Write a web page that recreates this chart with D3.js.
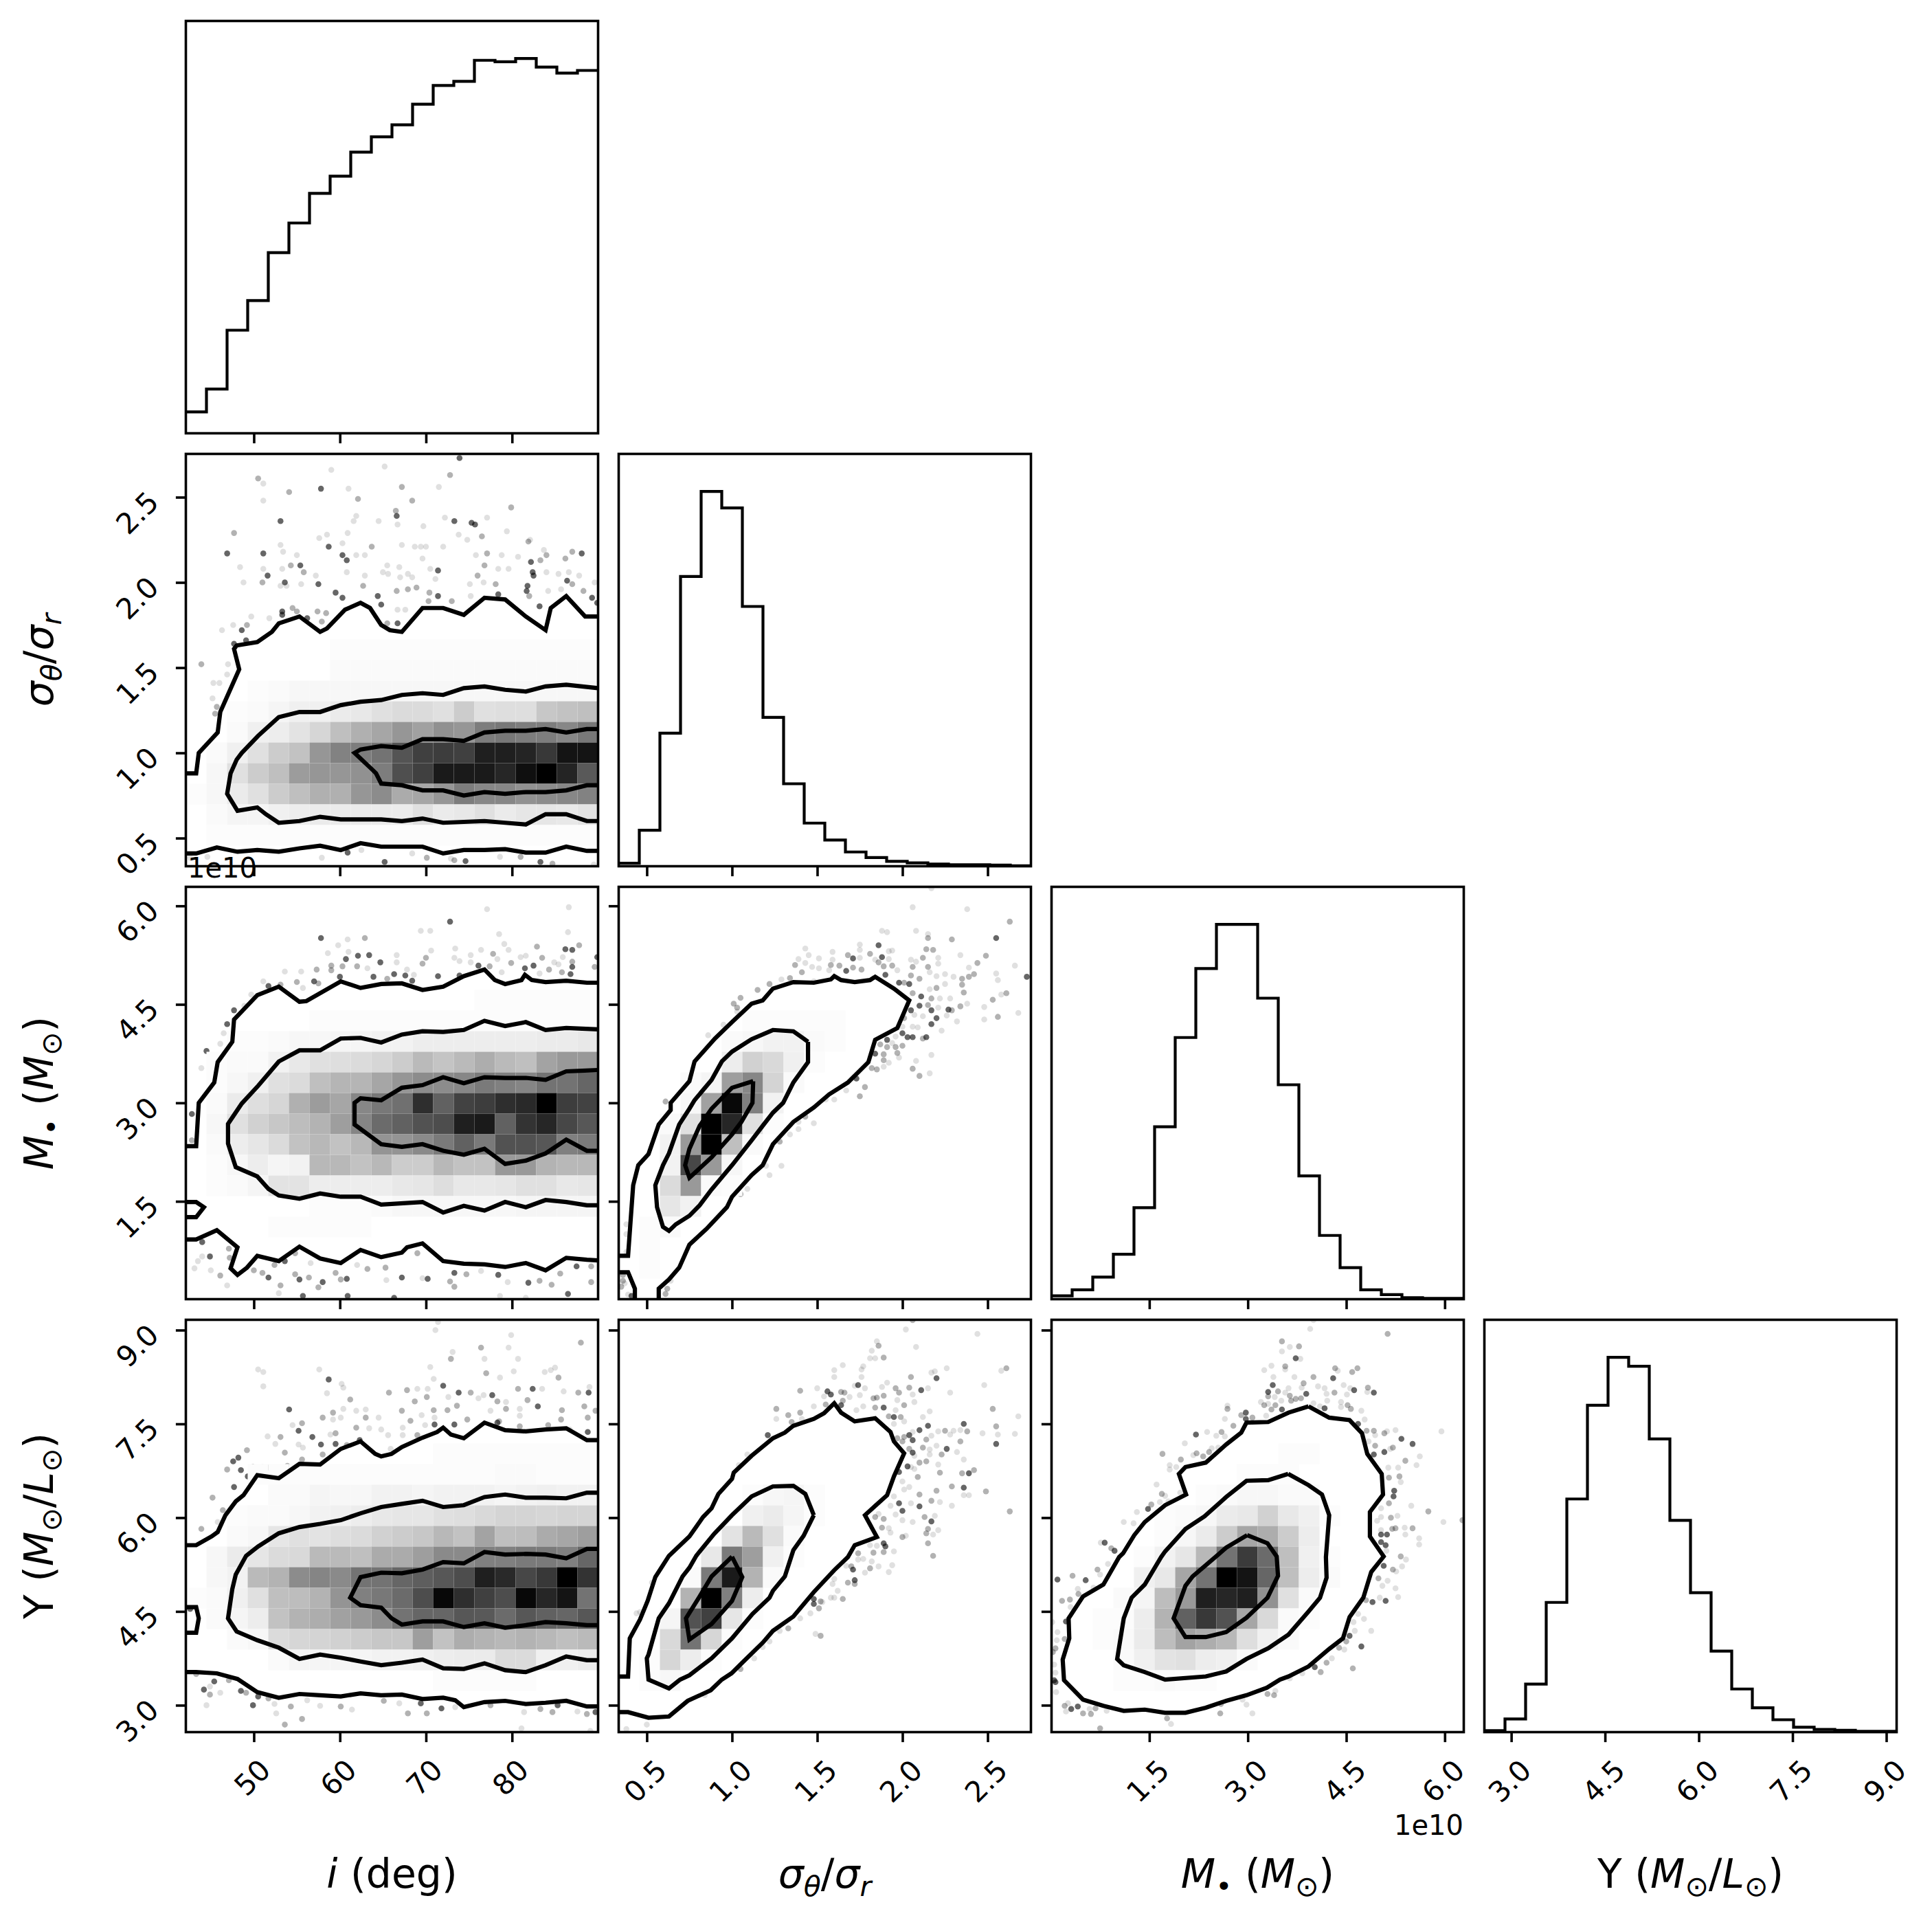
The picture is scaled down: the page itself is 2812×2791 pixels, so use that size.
<!DOCTYPE html>
<html>
<head>
<meta charset="utf-8">
<script src="https://cdn.jsdelivr.net/npm/d3@7"></script>
<style>
  html, body { margin: 0; padding: 0; background: #fff; }
  svg { display: block; }
  text { font-family: "DejaVu Sans", sans-serif; fill: #000; }
</style>
</head>
<body>
<svg id="chart" width="2812" height="2791"></svg>
<script>
// ---- axis ranges and ticks ----
const domI = [42.1, 90], domS = [0.335, 2.754], domM = [0.01, 6.29], domY = [2.57, 9.165];
const ticksI = [50, 60, 70, 80];
const ticksS = [0.5, 1.0, 1.5, 2.0, 2.5];
const ticksM = [1.5, 3.0, 4.5, 6.0];
const ticksY = [3.0, 4.5, 6.0, 7.5, 9.0];

// ---- 1d histograms, relative counts, 20 bins ----
const histI = [57, 118, 275, 354, 482, 561, 640, 686, 750, 791, 823, 878, 928, 939, 995, 991, 1000, 977, 961, 968];
const histS = [8, 96, 355, 773, 1000, 956, 693, 397, 220, 115, 70, 38, 23, 13, 9, 6, 4, 4, 3, 1];
const histM = [9, 25, 59, 120, 244, 460, 698, 882, 1000, 1000, 803, 572, 329, 170, 84, 25, 12, 4, 2, 2];
const histY = [4, 35, 128, 346, 622, 872, 1000, 976, 782, 565, 372, 216, 115, 65, 33, 13, 7, 5, 2, 2];

// ---- 2d histograms: [row from top, first column, densities 0-100] ----
const cellsIS = [
  [9, 7, [1,1,1,1,1,1,1,1,1,1,1,1,1]],
  [10, 7, [2,2,2,2,2,2,2,2,2,2,2,2,2]],
  [11, 3, [1,2,3,3,3,3,3,3,3,3,3,3,3,3,3,3,3]],
  [12, 2, [1,2,4,6,6,8,9,12,14,14,12,20,12,13,13,22,24,25]],
  [13, 2, [2,6,7,11,16,25,31,35,41,37,43,41,51,53,51,51,47,53]],
  [14, 1, [2,6,12,20,24,41,49,51,55,67,75,76,75,88,88,86,78,92,92]],
  [15, 1, [3,12,20,25,39,41,41,43,51,69,75,90,90,90,85,94,100,86,65]],
  [16, 0, [1,3,8,12,20,25,31,31,41,45,33,35,41,51,47,47,43,45,47,49]],
  [17, 1, [2,4,4,6,7,8,8,8,8,8,12,8,9,12,8,10,10,9,11]],
  [18, 1, [1,1,1,1,1,1,1,1,1,1,1,1,1,1,1,1,1,1,1]]
];
const cellsIM = [
  [5, 14, [1,1,1,1,1,1]],
  [6, 6, [1,1,1,1,1,1,1,1,1,1,1,1,1,1]],
  [7, 2, [1,1,2,3,3,4,4,5,5,7,7,7,7,7,7,8,8,9,9]],
  [8, 1, [1,2,2,5,9,12,13,14,16,20,27,23,27,32,27,25,36,40,40]],
  [9, 1, [1,3,6,12,14,25,29,29,35,41,45,45,47,52,50,48,55,55,60]],
  [10, 1, [2,8,13,16,31,39,35,47,53,56,82,62,74,76,82,84,100,76,74]],
  [11, 1, [3,12,18,22,26,30,38,48,58,62,68,70,88,90,62,80,85,72,66]],
  [12, 1, [2,7,10,14,24,28,24,28,42,42,46,52,62,52,68,68,66,50,52]],
  [13, 1, [1,3,7,4,5,28,28,24,28,20,20,28,24,24,40,40,30,28,28]],
  [14, 1, [1,2,4,11,11,7,7,7,7,9,10,13,9,9,10,12,12,9,10]],
  [15, 6, [1,1,1,2,3,3,3,3,3,3,4,4,4,4]],
  [16, 4, [1,1,1,1,1]]
];
const cellsIY = [
  [6, 12, [1,1,1,1,1,1,1,1]],
  [7, 3, [1,1,1,1,1,1,1,1,1,1,1,1,2,2,1,1,1]],
  [8, 4, [2,2,4,3,3,5,5,4,5,5,5,4,5,6,5,5]],
  [9, 2, [1,2,2,3,5,6,7,9,10,10,12,13,15,17,17,16,17,17]],
  [10, 2, [2,3,10,12,11,13,14,18,20,22,28,24,36,25,26,33,35,38]],
  [11, 1, [3,8,10,14,15,27,27,25,33,33,38,46,46,50,50,52,52,50,60]],
  [12, 1, [3,5,27,30,45,48,46,55,55,60,63,66,70,88,84,72,78,100,80]],
  [13, 0, [1,2,6,12,25,26,30,42,50,53,58,70,97,82,75,70,97,85,92,55]],
  [14, 1, [2,4,7,24,30,32,37,40,45,55,60,60,66,65,58,66,62,60,66]],
  [15, 2, [2,3,14,16,17,18,20,22,22,38,24,32,30,28,30,28,25,27]],
  [16, 4, [2,4,4,4,4,5,5,6,7,8,8,14,14,6,6,7]],
  [17, 12, [1,1,1,1,1]]
];
const cellsSM = [
  [6, 6, [1,1,1,1,1]],
  [7, 5, [2,3,5,5,2,1]],
  [8, 5, [7,18,15,6,1]],
  [9, 3, [2,4,38,47,17,2]],
  [10, 3, [3,37,97,50,5]],
  [11, 2, [2,12,100,85,12,1]],
  [12, 2, [5,40,100,25,2]],
  [13, 2, [5,72,40,3]],
  [14, 2, [14,40,2,1]],
  [15, 2, [10,5]],
  [16, 1, [1,2]],
  [17, 1, [1]],
  [18, 1, [1]]
];
const cellsSY = [
  [8, 6, [1,3,4,1]],
  [9, 6, [6,8,4,1]],
  [10, 5, [11,27,12,2]],
  [11, 4, [9,52,38,6,1]],
  [12, 3, [2,52,90,30,2]],
  [13, 3, [30,100,50,7]],
  [14, 2, [4,68,75,10,1]],
  [15, 2, [15,55,16,1]],
  [16, 1, [1,16,7,1]],
  [17, 1, [1,3]]
];
const cellsMY = [
  [6, 11, [1,1]],
  [7, 9, [1,1,1]],
  [8, 7, [1,2,3,3,2,2]],
  [9, 5, [1,2,3,8,9,18,9,6,1]],
  [10, 5, [1,3,8,20,35,32,20,7]],
  [11, 4, [1,5,10,28,55,77,58,25,6,1]],
  [12, 4, [6,9,35,55,100,92,60,25,7,2]],
  [13, 3, [2,4,26,40,88,85,88,43,12,2]],
  [14, 2, [1,1,7,30,62,78,68,35,15,2,1]],
  [15, 2, [1,2,8,26,36,32,28,13,6,2]],
  [16, 3, [2,6,11,12,7,6,2]],
  [17, 3, [1,1,2,1,1]]
];

// ---- contour lines ----
const contoursIS = [
  [[42.1,.88],[43.3,.88],[43.6,1],[45.8,1.12],[46.1,1.24],[48.3,1.49],[47.7,1.61],[48,1.63],[50.4,1.65],[52.1,1.71],[52.9,1.76],[55.3,1.8],[57.7,1.71],[58.5,1.73],[60.6,1.84],[62.4,1.88],[63.5,1.85],[64.8,1.75],[65.8,1.72],[67.2,1.71],[69.6,1.85],[72,1.85],[74.4,1.81],[76.8,1.91],[79.2,1.9],[81.6,1.8],[83.9,1.72],[84.5,1.85],[86.3,1.92],[88.5,1.8],[90,1.8]],
  [[42.1,.41],[43.3,.41],[45.7,.445],[48.1,.42],[50.4,.43],[52.9,.42],[55.3,.44],[57.7,.455],[60.1,.43],[62.4,.47],[64.8,.45],[69.6,.45],[72,.41],[74.4,.43],[76.8,.43],[79.2,.435],[81.6,.415],[83.9,.415],[86.3,.45],[88.7,.425],[90,.425]],
  [[90,1.38],[86.3,1.4],[83.9,1.39],[81.6,1.36],[79.2,1.37],[76.8,1.39],[74.4,1.38],[72,1.34],[69.6,1.35],[67.2,1.34],[64.8,1.31],[62.4,1.3],[60.1,1.28],[57.7,1.24],[55.3,1.24],[52.9,1.21],[50.5,1.1],[48.6,1],[48,.96],[47.3,.88],[46.9,.76],[48.1,.66],[50.4,.68],[51.4,.64],[52.9,.59],[55.3,.6],[57.7,.625],[60.1,.61],[64.8,.61],[67.2,.6],[69.6,.615],[72,.59],[74.4,.595],[76.8,.6],[79.2,.59],[81.6,.58],[83.9,.64],[86.3,.64],[88.7,.6],[90,.6]],
  [[90,1.14],[88.7,1.14],[86.3,1.12],[83.9,1.14],[81.6,1.13],[79.2,1.13],[76.8,1.12],[74.4,1.07],[72,1.08],[69.6,1.08],[67.2,1.03],[64.8,1.04],[62.4,1.02],[61.7,1],[63.8,.9],[64.2,.88],[64.8,.82],[67.2,.81],[69.6,.78],[72,.78],[74.4,.75],[76.8,.77],[79.2,.76],[81.6,.77],[83.9,.77],[86.3,.78],[88.7,.81],[90,.81]]
];
const contoursIM = [
  [[42.2,2.34],[43.3,2.34],[43.6,3],[45.4,3.31],[45.8,3.62],[47.5,3.93],[47.7,4.27],[50.4,4.64],[52.9,4.77],[55.3,4.54],[56.1,4.55],[60.1,4.85],[62.4,4.75],[64.8,4.81],[67.2,4.82],[69.6,4.72],[72,4.77],[74.4,4.93],[76.8,5.03],[78,4.87],[79.2,4.81],[81.1,4.87],[81.5,4.95],[82.3,4.87],[83.9,4.84],[86.3,4.86],[88.7,4.83],[90,4.83]],
  [[42.2,1.49],[43.3,1.49],[44.2,1.41],[43.3,1.26],[42.2,1.26]],
  [[42.2,.92],[43.3,.92],[45.7,1.06],[48.1,.8],[47.3,.48],[48.1,.38],[49.2,.49],[50.4,.67],[52.9,.59],[55.3,.81],[57.7,.63],[60.1,.56],[62.4,.76],[64.8,.65],[67.2,.72],[67.8,.8],[69.6,.86],[72,.59],[74.4,.55],[76.8,.54],[79.2,.5],[81.6,.56],[83.9,.45],[86.3,.64],[88.7,.61],[90,.6]],
  [[90,4.12],[86.3,4.14],[83.9,4.11],[81.6,4.23],[79.2,4.17],[76.8,4.25],[74.4,4.11],[72,4.08],[69.6,4.09],[67.2,4.04],[64.8,3.92],[62.4,3.99],[60.1,3.98],[57.7,3.8],[55.3,3.8],[52.9,3.63],[50.5,3.26],[48.6,2.99],[47,2.68],[47,2.38],[47.9,2.02],[50.4,1.88],[51.7,1.69],[52.9,1.59],[55.3,1.54],[57.7,1.62],[60.1,1.57],[62.4,1.57],[64.8,1.45],[69.6,1.49],[72,1.33],[74.4,1.43],[76.8,1.36],[79.2,1.49],[81.6,1.41],[83.9,1.52],[86.3,1.49],[88.7,1.44],[90,1.44]],
  [[90,3.5],[86.3,3.48],[83.9,3.35],[81.6,3.38],[79.2,3.38],[76.8,3.39],[74.4,3.3],[72,3.39],[69.6,3.27],[67.2,3.23],[64.8,3.04],[62.4,3.07],[61.7,3],[61.7,2.67],[64.8,2.37],[67.2,2.33],[69.6,2.37],[72,2.27],[74.4,2.21],[76.8,2.3],[79.2,2.07],[81.6,2.12],[83.9,2.23],[86.3,2.44],[88.7,2.27],[90,2.27]]
];
const contoursIY = [
  [[42.2,5.56],[43.3,5.56],[45.1,5.7],[45.8,5.77],[46.7,6.04],[47.9,6.26],[48.8,6.36],[50.4,6.68],[52.9,6.63],[55.3,6.86],[57.7,6.85],[60.1,7.1],[62.4,7.22],[64.1,7.02],[64.8,6.98],[66,7.02],[67.2,7.13],[69.6,7.28],[71.3,7.37],[72,7.44],[72.9,7.33],[74.4,7.27],[76.8,7.52],[79.2,7.4],[81.6,7.38],[83.9,7.41],[86.3,7.43],[88.7,7.24],[90,7.24]],
  [[42.2,3.53],[43.3,3.53],[45.7,3.51],[48.1,3.42],[50.4,3.21],[52.9,3.12],[55.3,3.18],[57.7,3.16],[60.1,3.14],[62.4,3.19],[64.8,3.16],[67.2,3.17],[69.6,3.1],[72,3.12],[73.4,3.08],[74.4,2.97],[76.8,3.05],[79.2,3.07],[81.6,3.02],[83.9,3.04],[86.3,3.07],[88.7,2.98],[90,2.98]],
  [[42.2,4.57],[43.3,4.57],[43.6,4.39],[43.3,4.16],[42.2,4.16]],
  [[90,6.4],[88.7,6.4],[86.3,6.31],[83.9,6.32],[81.6,6.32],[79.2,6.37],[76.8,6.33],[74.4,6.2],[72,6.17],[69.6,6.27],[67.2,6.22],[64.8,6.17],[62.4,6.07],[60.1,5.96],[57.7,5.9],[55.3,5.85],[52.9,5.75],[51.4,5.62],[50.5,5.54],[49.1,5.39],[47.9,5.09],[47.5,4.86],[47,4.39],[48,4.18],[50.4,4.04],[52.9,3.92],[55.3,3.74],[57.7,3.81],[60.1,3.76],[62.4,3.7],[64.8,3.64],[67.2,3.68],[69.6,3.73],[72,3.59],[74.4,3.58],[76.8,3.67],[79.2,3.56],[81.6,3.53],[83.9,3.64],[86.3,3.78],[88.7,3.72],[90,3.72]],
  [[90,5.5],[88.7,5.5],[86.3,5.35],[83.9,5.41],[81.6,5.42],[79.2,5.41],[76.8,5.45],[74.4,5.27],[72,5.29],[69.6,5.17],[67.2,5.11],[64.8,5.12],[62.4,5.05],[61.2,4.72],[62.4,4.6],[64.8,4.56],[66,4.39],[67.2,4.29],[69.6,4.34],[72,4.34],[74.4,4.25],[76.8,4.31],[79.2,4.24],[81.6,4.28],[83.9,4.33],[86.3,4.31],[88.7,4.28],[90,4.28]]
];
const contoursSM = [
  [[.33,.67],[.39,.67],[.42,1.745],[.45,2.05],[.51,2.22],[.57,2.67],[.64,2.89],[.64,3],[.75,3.33],[.78,3.63],[.9,3.98],[1,4.23],[1.115,4.51],[1.18,4.56],[1.24,4.74],[1.36,4.84],[1.48,4.83],[1.58,4.88],[1.6,4.93],[1.64,4.87],[1.72,4.84],[1.81,4.87],[1.84,4.92],[1.95,4.74],[2.04,4.56],[1.97,4.14],[1.84,3.96],[1.8,3.62],[1.68,3.31],[1.57,3.13],[1.48,2.93],[1.36,2.71],[1.24,2.37],[1.18,2.05],[1.115,1.9],[1,1.57],[.97,1.41],[.85,1.08],[.75,.84],[.69,.49],[.63,.31],[.57,.17],[.57,.01]],
  [[.33,.42],[.39,.42],[.43,.17],[.43,.01]],
  [[1.446,3.93],[1.446,3.62],[1.36,3.31],[1.3,3],[1.24,2.85],[1.18,2.65],[1.115,2.43],[1,2.05],[.88,1.68],[.81,1.44],[.75,1.28],[.67,1.15],[.63,1.05],[.595,1.11],[.56,1.41],[.55,1.745],[.595,2.05],[.63,2.23],[.69,2.67],[.75,2.91],[.78,3.04],[.88,3.35],[.94,3.63],[1,3.78],[1.115,3.97],[1.24,4.11],[1.36,4.09],[1.42,3.98],[1.446,3.93]],
  [[1.124,3.33],[1.12,3],[1.055,2.71],[1,2.52],[.88,2.17],[.83,2.05],[.75,1.86],[.725,2.05],[.75,2.3],[.81,2.65],[.88,2.91],[1,3.23],[1.124,3.33]]
];
const contoursSY = [
  [[.33,3.46],[.39,3.46],[.4,4.07],[.46,4.37],[.505,4.67],[.55,5.05],[.63,5.39],[.75,5.7],[.83,6.01],[.88,6.15],[.92,6.38],[1,6.62],[1.01,6.72],[1.115,6.99],[1.24,7.27],[1.31,7.36],[1.36,7.47],[1.48,7.58],[1.54,7.67],[1.6,7.83],[1.64,7.68],[1.72,7.54],[1.84,7.59],[1.93,7.37],[1.95,7.22],[2.01,7.03],[1.95,6.66],[1.91,6.36],[1.78,6.04],[1.85,5.69],[1.72,5.56],[1.68,5.37],[1.6,5.16],[1.48,4.81],[1.36,4.42],[1.24,4.19],[1.18,4],[1.06,3.68],[.997,3.51],[.94,3.41],[.875,3.24],[.74,3.07],[.63,2.82],[.51,2.8],[.39,2.89],[.33,2.89]],
  [[1.48,6.04],[1.42,5.71],[1.36,5.48],[1.31,5.06],[1.24,4.83],[1.22,4.72],[1.12,4.46],[1,4.07],[.88,3.75],[.75,3.48],[.695,3.41],[.63,3.27],[.51,3.41],[.5,3.75],[.51,3.81],[.57,4.39],[.63,4.63],[.71,5.06],[.75,5.2],[.79,5.39],[.895,5.74],[1,6.04],[1.115,6.34],[1.24,6.5],[1.36,6.51],[1.43,6.38],[1.48,6.04]],
  [[1,5.375],[1.06,5.05],[1,4.67],[.88,4.3],[.75,4.05],[.73,4.39],[.81,4.74],[.88,5.06],[1,5.375]]
];
const contoursMY = [
  [[3.925,7.78],[4.24,7.6],[4.55,7.56],[4.74,7.35],[4.82,7.02],[5.04,6.7],[5.06,6.37],[4.86,6.09],[4.86,5.7],[5.07,5.38],[4.88,5.13],[4.76,4.72],[4.55,4.41],[4.45,4.07],[4.24,3.9],[3.925,3.62],[3.62,3.46],[3.49,3.41],[3.29,3.28],[2.98,3.16],[2.67,3.07],[2.36,2.96],[2.05,2.88],[1.74,2.88],[1.43,2.93],[1.11,2.91],[.8,2.99],[.49,3.09],[.2,3.4],[.18,3.73],[.28,4.07],[.27,4.39],[.49,4.74],[.8,4.93],[1.04,5.37],[1.1,5.43],[1.27,5.72],[1.43,5.93],[1.74,6.2],[2.06,6.37],[1.95,6.7],[2.05,6.81],[2.36,6.88],[2.67,7.17],[2.9,7.36],[2.98,7.52],[3.31,7.53],[3.62,7.68],[3.925,7.78]],
  [[3.615,6.7],[3.925,6.52],[4.13,6.37],[4.24,6.04],[4.19,5.37],[4.2,5.04],[4.1,4.72],[3.925,4.5],[3.62,4.13],[3.31,3.91],[2.98,3.74],[2.67,3.54],[2.36,3.46],[1.74,3.41],[1.43,3.53],[1.11,3.64],[1.01,3.74],[1.11,4.39],[1.23,4.72],[1.43,4.93],[1.68,5.37],[1.74,5.46],[2.05,5.82],[2.34,6.02],[2.67,6.33],[2.98,6.59],[3.31,6.6],[3.615,6.7]],
  [[2.99,5.72],[3.3,5.59],[3.44,5.38],[3.46,5.07],[3.3,4.72],[2.98,4.4],[2.67,4.17],[2.36,4.09],[2.05,4.09],[1.87,4.39],[2.05,4.91],[2.16,5.06],[2.55,5.41],[2.67,5.52],[2.99,5.72]]
];

// ---- scatter points outside the contours: [x, y, weight 1-3] ----
const pointsIS = [[73.9,2.73,3],[72.8,2.63,2],[59,2.66,1],[65.2,2.68,1],[50.5,2.61,2],[51.1,2.58,1],[51.1,2.48,1],[54.1,2.53,2],[57.8,2.55,3],[61,2.55,1],[62.1,2.49,2],[67.2,2.56,2],[71.5,2.56,1],[68.4,2.48,2],[79.9,2.44,2],[66.5,2.42,2],[66.6,2.39,3],[61.9,2.39,1],[61.6,2.36,1],[64.5,2.36,1],[66.7,2.34,1],[72.2,2.38,1],[53.1,2.36,3],[73.3,2.36,3],[75.3,2.35,3],[75.7,2.34,3],[77.1,2.38,1],[69.7,2.33,1],[79.4,2.3,1],[47.7,2.29,2],[58.5,2.28,1],[57.6,2.26,1],[60.9,2.29,1],[73.8,2.28,1],[76.5,2.27,2],[74.8,2.25,1],[82.1,2.25,1],[81.9,2.24,2],[67.2,2.22,1],[60.3,2.23,1],[53.1,2.22,1],[58.7,2.21,3],[63.7,2.21,2],[68.7,2.21,1],[69.4,2.21,1],[70,2.21,1],[72,2.21,1],[46.9,2.17,3],[51.1,2.17,3],[53.4,2.18,1],[55,2.16,1],[60.3,2.16,3],[61.9,2.16,1],[62.9,2.16,1],[69.6,2.14,1],[75.8,2.16,1],[77.1,2.17,2],[78.8,2.16,1],[80.7,2.15,1],[83.7,2.19,1],[84,2.16,2],[87,2.18,2],[88.1,2.17,3],[86.2,2.14,2],[82.2,2.12,3],[83.3,2.13,2],[60.8,2.13,3],[54.3,2.1,2],[55.4,2.1,3],[65.5,2.1,1],[76.8,2.1,2],[70.5,2.08,1],[71.4,2.07,3],[78.4,2.08,1],[79.6,2.08,1],[48.4,2.09,1],[51.1,2.08,1],[53.3,2.08,1],[51.6,2.04,3],[55.8,2.06,2],[60.8,2.06,1],[65,2.06,1],[65.6,2.05,1],[66.9,2.09,1],[67.9,2.05,1],[82.4,2.06,3],[84,2.06,1],[85.4,2.05,1],[86.6,2.06,1],[57.2,2.04,1],[62.9,2.04,1],[67,2.03,1],[76,2.04,2],[82.5,2.04,3],[87.8,2.04,1],[51,2,2],[48.8,2,1],[53.6,2,3],[55.5,1.99,1],[57.5,1.99,3],[68.4,2.03,1],[71.1,2.02,1],[76.7,2,1],[78.1,1.99,2],[75.1,1.99,1],[86.4,2.01,3],[87,1.99,2],[89.6,2,1],[81.8,1.98,3],[53.1,1.98,1],[53.8,1.98,1],[62.7,1.98,2],[68.9,1.97,2],[67.9,1.96,2],[66.6,1.95,2],[88.3,1.95,2],[81.7,1.95,3],[84.2,1.95,1],[85.7,1.96,1],[70.4,1.94,2],[59.5,1.94,3],[64.4,1.92,3],[60.3,1.91,3],[71.4,1.92,3],[78.4,1.93,3],[89.3,1.91,3],[82,1.92,2],[89.9,1.88,3],[70.3,1.89,2],[73,1.89,2],[75.2,1.92,1],[64.8,1.87,3],[83.2,1.86,3],[53.3,1.83,3],[53.3,1.81,3],[54.5,1.85,2],[55,1.83,2],[57.4,1.83,2],[58.4,1.82,2],[49.7,1.8,1],[56.2,1.79,3],[57.9,1.77,2],[51.8,1.79,1],[66.7,1.84,1],[67.6,1.84,1],[65.5,1.76,2],[66.7,1.76,3],[47.6,1.75,1],[49.2,1.75,2],[48.6,1.72,3],[46.3,1.72,1],[49.1,1.66,3],[47.7,1.64,3],[43.9,1.52,2],[47,1.52,1],[46.9,1.46,1],[45.3,1.41,1],[46,1.41,1],[45.2,1.32,1],[45.7,1.27,2],[45.5,1.23,2],[60.9,.415,3],[62.5,.43,1],[68.4,.41,1],[70.1,.385,2],[57.9,.385,1],[65.2,.36,3],[73.3,.37,2],[74.6,.365,3],[78.6,.39,1],[81,.39,2],[83.3,.36,3],[84.7,.35,2],[72.9,.38,1],[44.6,.39,1],[42.6,.385,1],[89.5,.345,1]];
const pointsIM = [[77.1,5.95,1],[86.6,5.98,1],[72.8,5.76,3],[86.5,5.6,1],[57.8,5.51,3],[60.9,5.49,1],[62.9,5.51,2],[69.4,5.62,1],[70.5,5.62,1],[78.5,5.57,1],[59.8,5.4,1],[70.6,5.32,1],[79.1,5.42,1],[82.9,5.38,2],[73.4,5.35,1],[79.6,5.33,1],[87.8,5.4,2],[87,5.33,3],[86.2,5.34,3],[58.6,5.28,1],[61,5.3,1],[62.1,5.24,3],[63.4,5.25,3],[66.6,5.25,1],[70,5.21,2],[73.3,5.21,1],[75.2,5.25,1],[76.4,5.33,1],[77.8,5.27,2],[78.3,5.19,1],[81,5.22,1],[81.6,5.24,1],[83.5,5.21,2],[85.9,5.22,1],[89.9,5.22,3],[60.7,5.19,3],[60.3,5.08,2],[64.7,5.14,3],[66.6,5.14,1],[69.6,5.12,2],[73.9,5.16,1],[75.2,5.14,1],[79.9,5.13,2],[82.5,5.09,3],[84.9,5.14,1],[87,5.15,2],[85.4,5.11,1],[59,5.09,2],[62,5.08,2],[57.3,5.03,2],[63.2,5.05,1],[67.8,5.03,1],[76.1,5.09,3],[77.4,5.08,2],[81.5,5.05,3],[84.3,5.03,2],[87,5.07,3],[89.6,5.07,2],[53.6,5,1],[55.5,5,1],[59,5.02,2],[66.3,4.96,3],[67.6,4.94,3],[71.4,4.93,3],[78.8,4.99,1],[83.2,4.97,1],[85.8,4.99,2],[86.8,4.96,3],[60,4.92,3],[63.9,4.92,3],[65.5,4.89,2],[68.6,4.95,1],[73.9,4.94,3],[51.1,4.85,1],[55,4.84,2],[57,4.85,3],[68.4,4.86,3],[53.1,4.8,2],[51.7,4.78,3],[57.5,4.82,2],[55.7,4.75,1],[49.7,4.65,1],[47.7,4.41,3],[48.9,4.48,1],[46.9,4.2,3],[46.5,4.06,1],[46.1,3.9,1],[44.5,3.79,3],[45.4,3.64,1],[45.2,3.55,2],[43.9,3.53,1],[44.9,3.35,1],[42.8,2.83,3],[42.8,2.43,2],[44,.88,3],[44.9,.66,3],[44,.66,1],[43.5,.59,1],[47.1,.78,2],[47.2,.64,2],[43.1,.48,1],[45,.45,1],[46.1,.37,2],[50,.45,2],[51,.41,2],[51.7,.34,3],[52.4,.53,2],[53.6,.59,3],[54.8,.71,2],[54.8,.39,2],[55.3,.31,3],[56.4,.34,2],[56.6,.56,1],[58,.27,3],[57.5,.19,2],[60.8,.32,3],[60.1,.31,2],[59.5,.41,2],[62,.53,1],[65.3,.49,2],[63.2,.47,2],[67.2,.34,3],[69.6,.33,1],[70.2,.32,3],[69,.71,2],[73.3,.41,3],[74.7,.39,2],[72.8,.28,2],[76.4,.44,1],[78.4,.38,3],[79.5,.27,1],[81.9,.26,3],[83.2,.29,2],[85.6,.4,2],[87.5,.51,3],[89.2,.51,2],[86.5,.09,3],[89.2,.27,2],[73.3,.2,2],[46.9,.22,1],[53.1,.22,2],[52.9,.1,1],[55.7,.06,3],[60.9,.06,3],[66.3,.03,3],[78.6,.06,1],[81.6,.03,1],[84.6,.23,2],[65.4,.3,1]];
const pointsIY = [[71.4,9.13,1],[71.1,9,1],[79.9,8.92,1],[88,8.8,2],[76.4,8.72,2],[79.6,8.72,1],[73.1,8.65,1],[72.9,8.54,2],[76.8,8.54,1],[80.7,8.54,1],[50.5,8.37,1],[51.1,8.33,1],[57.6,8.37,1],[70.5,8.41,1],[80.2,8.34,1],[83.8,8.33,1],[85,8.4,1],[84.5,8.36,1],[77,8.31,2],[85.4,8.24,2],[58.7,8.21,3],[78.6,8.24,1],[70.9,8.22,1],[51.1,8.1,1],[60.2,8.14,1],[60.4,8.08,1],[72,8.11,3],[58.5,7.99,1],[65.7,8,2],[67.8,8.04,2],[69,8.06,1],[70.2,8.06,1],[73.8,8,3],[75.2,8,2],[76.7,7.96,1],[77.7,7.96,3],[80.7,8.06,2],[82.4,8.06,3],[83.5,8.06,1],[86,8.02,1],[87.7,8,2],[89,8.09,1],[61.2,7.89,2],[68.7,7.86,2],[70.1,7.93,2],[72.6,7.93,1],[76.1,7.91,1],[78.3,7.86,2],[79.3,7.85,1],[81.8,7.88,2],[88.9,8,3],[54.1,7.73,3],[60.4,7.74,1],[59.2,7.68,2],[61.9,7.71,1],[63,7.73,1],[67.2,7.71,2],[70.9,7.72,2],[72.5,7.72,2],[73.6,7.79,2],[77.5,7.71,1],[79.3,7.74,2],[80.9,7.74,1],[83,7.78,3],[85.8,7.72,2],[88.4,7.78,2],[89.7,7.71,2],[58,7.6,2],[59.2,7.57,1],[60.1,7.6,1],[63,7.6,2],[64.5,7.6,1],[68.2,7.55,2],[69.5,7.64,1],[71,7.6,1],[74.8,7.57,2],[78.5,7.54,2],[80.9,7.63,1],[85.7,7.57,2],[88.8,7.6,2],[54.5,7.48,1],[55.6,7.51,2],[55.2,7.39,3],[61.9,7.44,2],[63.4,7.43,1],[64.8,7.41,1],[67.3,7.44,1],[69.9,7.48,1],[71,7.49,3],[73.3,7.49,3],[78.3,7.52,3],[84.2,7.48,2],[80.9,7.46,2],[86.7,7.41,1],[88.8,7.37,3],[51.6,7.3,1],[53.1,7.29,2],[56.8,7.29,3],[59.5,7.35,2],[58.9,7.33,1],[62.3,7.24,3],[65.6,7.32,1],[67.3,7.32,1],[69,7.32,2],[52.5,7.18,1],[55.2,7.17,1],[57.8,7.17,3],[55.7,7.12,1],[59.5,7.18,3],[60.8,7.16,2],[65.9,7.1,1],[49.2,7.08,2],[53.6,7.04,2],[58,7.01,2],[48.2,6.96,3],[47.6,6.9,3],[55.6,6.93,2],[53.9,6.83,2],[49.9,6.81,3],[51,6.81,1],[51.6,6.8,2],[46.9,6.77,2],[48.5,6.76,3],[49.3,6.66,3],[47.7,6.49,3],[45.2,6.32,2],[46.4,6.12,2],[45.8,5.93,1],[43.9,5.82,2],[42.6,4.54,3],[43.3,3.5,2],[44.2,3.25,3],[45.4,3.38,3],[46.1,3.2,1],[44.9,3.3,1],[44.9,3.17,2],[44.5,3,1],[47.1,3.4,2],[48.5,3.23,3],[49.1,3.2,2],[50.5,3.14,3],[49.9,3,3],[51.7,3.11,2],[52.4,3.02,1],[52.6,2.87,1],[53.6,2.69,2],[54.3,2.98,2],[55.6,2.78,2],[56.2,3.08,1],[57.7,2.99,1],[60.1,2.98,2],[61.4,2.93,1],[65.1,3.07,2],[66.9,3.03,1],[67.9,2.87,2],[69.4,3.03,3],[70.1,2.87,2],[71.8,2.95,3],[73.4,2.97,1],[77.5,3,2],[81.1,2.63,1],[81.4,2.89,1],[83.3,2.94,2],[85.3,3,3],[84.7,2.89,2],[87.6,2.9,1],[88.7,2.86,2],[89.7,2.89,3],[89.1,2.59,1]];
const pointsSM = [[2.17,6.27,1],[2.06,5.98,1],[2.38,5.95,1],[2.63,5.76,2],[2.55,5.51,3],[2.08,5.62,1],[1.88,5.62,1],[1.91,5.6,1],[2.15,5.57,1],[2.15,5.51,2],[2.29,5.49,2],[1.75,5.41,1],[1.86,5.4,3],[2.14,5.34,2],[2.18,5.33,2],[1.75,5.33,1],[1.43,5.35,1],[1.59,5.3,1],[1.92,5.31,1],[1.94,5.32,1],[1.81,5.27,2],[1.88,5.22,3],[1.45,5.25,1],[2.34,5.25,1],[2.49,5.24,2],[1.68,5.25,2],[1.71,5.2,3],[1.75,5.21,1],[1.39,5.19,1],[1.51,5.2,1],[2.05,5.18,1],[2.12,5.21,2],[2.21,5.21,1],[1.59,5.18,1],[1.84,5.18,1],[1.86,5.14,2],[1.92,5.19,1],[2.44,5.13,2],[2.21,5.12,1],[2.08,5.15,1],[1.43,5.13,1],[1.37,5.1,2],[1.58,5.1,2],[1.63,5.09,2],[1.71,5.06,2],[1.89,5.08,2],[1.94,5.09,2],[2.06,5.07,2],[2.15,5.07,2],[2.39,5.06,1],[2.66,5.09,1],[1.47,5.07,1],[1.51,5.05,1],[1.41,4.99,2],[1.76,5.03,2],[1.67,5.01,3],[1.57,5.02,1],[1.97,5.02,1],[2.16,4.99,1],[2.55,4.97,1],[2.42,4.96,2],[2.39,4.92,2],[2.73,4.92,3],[1.9,4.95,3],[2.05,4.94,2],[2.25,4.96,1],[2.2,4.93,1],[2.3,4.92,1],[2.35,4.89,2],[2.56,4.87,1],[1.98,4.83,3],[2.04,4.81,3],[2.01,4.83,2],[2.1,4.89,2],[1.34,4.9,2],[1.48,4.85,1],[1.29,4.88,1],[2.25,4.81,1],[1.22,4.81,2],[2.35,4.8,2],[2.16,4.73,1],[2.2,4.75,2],[2.36,4.68,2],[2.61,4.67,2],[2.58,4.65,1],[1.15,4.72,2],[2.11,4.62,3],[2.22,4.59,1],[2.28,4.59,1],[2.17,4.59,2],[2.53,4.57,2],[2.06,4.67,2],[1.05,4.6,2],[1.01,4.51,2],[1.03,4.45,2],[2.1,4.48,3],[2.15,4.49,2],[2.21,4.45,1],[2.34,4.47,2],[2.38,4.51,1],[2.48,4.46,1],[2.05,4.41,3],[2.17,4.41,3],[2.27,4.42,3],[2.29,4.41,2],[2.68,4.37,1],[1.03,4.39,1],[2.07,4.34,1],[2.12,4.32,1],[2.2,4.29,3],[2.26,4.33,1],[2.56,4.31,2],[2.48,4.27,1],[2.32,4.24,1],[2.01,4.29,2],[2.17,4.2,3],[.95,4.19,1],[2.06,4.16,1],[2.09,4.15,1],[2,4.16,1],[2.23,4.1,1],[.86,4.03,1],[2,4.06,3],[2.03,4,3],[2.06,4,3],[2.14,4,3],[2.12,3.98,2],[1.91,3.96,3],[1.96,4.01,1],[1.94,3.91,1],[1.87,3.89,2],[1.91,3.85,2],[2,3.87,2],[1.96,3.85,2],[1.84,3.75,3],[1.89,3.74,2],[1.97,3.76,2],[2.17,3.73,1],[1.98,3.69,1],[2.08,3.64,1],[1.89,3.65,2],[1.92,3.61,1],[1.82,3.53,2],[1.85,3.51,2],[1.89,3.55,1],[2.06,3.52,2],[2.16,3.45,1],[2.1,3.41,2],[1.73,3.37,3],[1.78,3.24,2],[1.75,3.1,2],[1.67,3.19,1],[1.6,3.05,1],[1.55,3.05,1],[.73,3.41,2],[.61,3.02,2],[1.43,2.79,2],[1.48,2.69,1],[1.39,2.71,1],[1.39,2.6,1],[1.34,2.52,1],[1.28,2.41,2],[1.29,2.04,1],[1.2,2.04,1],[1.22,1.9,1],[1.05,1.61,2],[1.09,1.69,1],[.38,1.15,1],[.38,1,1],[.38,.73,1],[.36,.38,2],[.36,.29,2],[.37,.25,1],[.35,.2,2],[.41,.06,3],[.39,.08,1],[.64,.29,1],[.62,.17,2],[.61,.09,2]];
const pointsSY = [[2.06,9.16,2],[2.02,9.01,1],[2.44,8.94,1],[1.85,8.82,1],[1.86,8.75,2],[1.82,8.67,1],[2.08,8.73,1],[1.81,8.55,1],[1.84,8.55,1],[1.89,8.56,2],[1.65,8.44,1],[1.6,8.36,1],[1.77,8.42,1],[1.6,8.25,1],[2.17,8.32,1],[2.19,8.34,1],[2.2,8.23,3],[2.26,8.39,1],[2.61,8.39,2],[2.58,8.35,1],[1.76,8.37,1],[1.76,8.25,1],[2.05,8.25,2],[1.91,8.16,1],[1.74,8.12,3],[1.72,8.11,1],[2.48,8.12,1],[1.96,8.07,2],[2.04,8.08,2],[2.11,8.04,3],[2.15,8.07,1],[1.5,8.07,1],[1.4,8.03,2],[1.56,8.02,3],[1.58,7.97,3],[1.64,8.01,2],[1.66,8,2],[1.78,8.07,1],[1.88,8.09,1],[1.98,8,2],[2.28,8,1],[1.54,7.94,1],[1.69,7.93,1],[1.75,7.96,1],[1.83,7.91,2],[1.85,7.92,2],[1.89,7.95,2],[2.06,7.97,1],[2.07,7.85,1],[1.65,7.87,2],[1.97,7.88,1],[2.01,7.8,2],[1.48,7.78,1],[1.55,7.81,2],[1.64,7.8,3],[1.77,7.78,1],[1.84,7.76,2],[1.89,7.76,3],[2.53,7.74,2],[1.26,7.74,2],[1.96,7.72,1],[2.16,7.7,1],[1.4,7.68,2],[1.73,7.72,1],[2.12,7.61,1],[2.68,7.62,1],[1.33,7.64,2],[1.92,7.62,2],[1.95,7.61,3],[1.99,7.61,2],[1.26,7.58,1],[1.41,7.58,1],[1.35,7.53,2],[2.01,7.54,1],[2.36,7.5,3],[2.15,7.47,3],[1.95,7.5,1],[2.55,7.46,2],[2.1,7.4,3],[2.21,7.38,1],[2.25,7.39,2],[2.28,7.33,1],[2.3,7.39,1],[2.34,7.4,1],[2.38,7.38,2],[2.47,7.35,1],[2.56,7.33,1],[2.66,7.34,1],[1.21,7.32,3],[2.04,7.32,3],[2.06,7.37,1],[2.01,7.29,2],[1.97,7.27,2],[2.17,7.31,1],[2.55,7.18,3],[2.34,7.22,2],[2.14,7.25,2],[2.06,7.24,3],[2,7.22,2],[2.2,7.15,1],[2.12,7.12,2],[2.26,7.1,3],[2.23,7.01,2],[2.16,7.09,1],[2.04,7.1,2],[2.06,7.04,3],[2.32,7.05,1],[2.16,7.01,1],[1.09,7.01,1],[2.36,6.93,1],[2.07,6.99,1],[2.1,6.88,2],[2.14,6.9,2],[2.21,6.85,1],[2.03,6.82,3],[2.05,6.81,1],[1.04,6.84,1],[1.98,6.73,3],[2.07,6.78,1],[2.22,6.72,2],[2.35,6.71,2],[2.39,6.71,3],[2.42,6.76,2],[2.09,6.65,2],[2,6.58,1],[2.29,6.5,2],[2.04,6.49,1],[2.01,6.45,1],[2.36,6.48,3],[2.2,6.43,2],[2.49,6.42,2],[2.36,6.36,1],[2.39,6.36,1],[2.1,6.37,2],[1.95,6.34,1],[2.17,6.27,2],[2.22,6.25,1],[1.98,6.23,3],[2.05,6.23,1],[2.1,6.18,3],[2.29,6.19,1],[1.93,6.19,1],[2,6.11,3],[1.96,6.05,1],[2.63,6.1,2],[1.86,6.06,1],[1.84,6.01,2],[1.89,5.98,2],[2,5.96,1],[2.06,5.93,1],[2.13,6.01,2],[2.19,6.03,1],[2.17,5.94,3],[1.88,5.84,2],[1.92,5.83,1],[2.15,5.82,2],[2.21,5.8,1],[2.14,5.75,2],[1.93,5.76,1],[2,5.69,2],[2.02,5.71,1],[2.18,5.73,1],[2.15,5.59,2],[1.89,5.59,3],[1.9,5.54,3],[1.85,5.55,1],[1.81,5.56,1],[1.83,5.44,2],[1.89,5.45,2],[1.95,5.46,1],[1.74,5.43,2],[2.18,5.39,2],[1.74,5.33,1],[1.82,5.3,1],[1.77,5.34,1],[1.94,5.24,1],[1.7,5.22,2],[1.81,5.19,2],[1.86,5.22,1],[1.67,5.23,1],[1.71,5.17,3],[1.78,5.12,1],[1.92,5.13,1],[1.6,5.02,1],[1.72,5,3],[1.68,4.96,2],[1.72,4.94,2],[1.59,4.94,1],[1.62,4.83,1],[1.52,4.66,2],[1.65,4.7,2],[1.58,4.72,1],[1.6,4.72,1],[1.48,4.7,3],[1.53,4.65,1],[1.48,4.62,3],[1.51,4.55,2],[1.46,4.47,1],[1.4,4.39,1],[1.33,4.23,2],[1.28,4.19,1],[1.49,4.14,1],[1.52,4.11,2],[1.22,4.02,1],[1.18,3.93,1],[1.13,3.75,1],[1.05,3.58,2],[.53,4.96,1],[.44,4.47,1],[.46,4.49,1],[.5,2.69,1],[.38,2.62,1],[.84,3.16,1]];
const pointsMY = [[4,9.16,1],[3.95,9.02,1],[5.13,8.94,2],[3.52,8.82,2],[3.64,8.73,1],[3.78,8.74,2],[3.52,8.66,1],[3.73,8.55,3],[3.8,8.54,1],[3.36,8.43,1],[3.57,8.42,2],[3.25,8.36,1],[3.57,8.37,1],[4.33,8.39,2],[4.37,8.35,1],[4.59,8.33,2],[4.67,8.39,2],[3.39,8.25,1],[3.71,8.25,1],[4,8.25,2],[4.3,8.23,3],[3.85,8.15,2],[3.38,8.12,3],[4.07,8.1,1],[4.46,8.12,1],[3.62,8.07,1],[3.82,8.08,1],[4.17,8.07,1],[4.56,8.07,1],[3.31,8.01,3],[3.46,8.02,2],[3.57,8,1],[4.62,8.04,3],[4.83,8.08,2],[4.92,8,3],[3.89,7.98,3],[4.2,7.98,1],[4.32,8,2],[4.51,7.97,1],[4.82,8.01,1],[3.64,7.95,2],[3.31,7.94,2],[3.41,7.93,1],[3.81,7.91,2],[3.73,7.9,2],[3.66,7.87,2],[3.51,7.87,1],[3.2,7.85,1],[3.31,7.82,1],[3.42,7.8,2],[3.25,7.8,2],[4.21,7.87,1],[4.42,7.85,1],[4,7.83,1],[4.52,7.8,2],[2.69,7.79,1],[4.1,7.78,1],[4.17,7.75,3],[4.42,7.77,1],[4.57,7.74,2],[2.69,7.74,2],[3.36,7.73,2],[3.52,7.73,3],[4.73,7.71,1],[2.97,7.68,3],[2.9,7.64,2],[3.07,7.6,2],[2.97,7.58,3],[2.65,7.58,1],[3.28,7.63,1],[4.78,7.57,1],[2.78,7.47,2],[4.68,7.5,3],[4.81,7.39,2],[4.92,7.39,2],[5.25,7.4,1],[5.95,7.38,1],[5.12,7.38,1],[5.08,7.35,2],[2.38,7.37,1],[2.6,7.37,2],[2.21,7.33,3],[2.52,7.31,1],[2.65,7.3,1],[4.94,7.32,1],[4.84,7.22,1],[5.34,7.26,3],[2.04,7.19,1],[5.51,7.18,3],[4.94,7.15,2],[5.21,7.12,2],[2.55,7.12,1],[2.45,7.11,1],[2.41,7.05,2],[5.08,7.05,3],[5.17,7.1,1],[4.92,7.01,3],[1.7,7.02,2],[2.22,7.03,2],[2.17,7,1],[2.32,6.98,2],[5.62,6.98,1],[1.98,6.93,2],[5.4,6.91,2],[5.57,6.84,1],[1.81,6.84,1],[1.81,6.77,1],[1.91,6.81,1],[5.14,6.8,1],[5.29,6.8,1],[5.31,6.66,2],[5.15,6.64,2],[5.33,6.57,1],[1.61,6.53,1],[1.69,6.38,2],[1.97,6.4,1],[1.74,6.35,1],[5.23,6.43,3],[5.22,6.34,3],[1.66,6.25,1],[1.53,6.21,2],[1.79,6.26,1],[5.15,6.23,2],[1.48,6.14,3],[5.49,6.19,1],[5.03,6.15,1],[1.31,6.09,1],[5.75,6.1,2],[5.18,6,2],[5.03,6.01,1],[5.28,6.03,1],[4.97,5.95,1],[1.11,5.93,1],[1.26,5.91,1],[5.98,5.93,1],[6.27,5.96,2],[5.2,5.82,2],[5.25,5.83,2],[5.39,5.84,1],[5.51,5.83,2],[5.03,5.8,1],[5.03,5.73,3],[5.12,5.73,3],[5.4,5.73,1],[5.61,5.67,1],[5.61,5.57,1],[.82,5.6,3],[.76,5.6,1],[.92,5.51,2],[.97,5.47,3],[5.03,5.61,3],[5.1,5.56,3],[5.11,5.47,1],[5.33,5.38,2],[5.41,5.33,1],[.87,5.26,1],[.71,5.17,2],[5.07,5.23,3],[5.21,5.17,2],[5.35,5.22,1],[5.26,5.14,1],[.75,5.09,1],[.33,5.07,2],[.1,5.01,3],[.53,5,3],[4.99,5.03,2],[5.13,4.99,1],[5.05,4.91,1],[.65,4.88,1],[.41,4.86,1],[5.25,4.87,1],[.42,4.78,2],[5.29,4.73,1],[.29,4.69,2],[.17,4.67,2],[5.01,4.72,1],[5.1,4.67,3],[4.9,4.65,3],[4.8,4.68,2],[.3,4.57,1],[4.68,4.46,1],[4.77,4.38,1],[.23,4.34,3],[.02,4.33,1],[4.61,4.33,1],[.1,4.17,1],[4.88,4.19,1],[4.63,4.19,1],[4.55,4.11,3],[.21,4.06,2],[.09,4.04,1],[4.5,4.02,2],[4.73,3.94,3],[4.39,3.92,2],[.07,3.91,2],[4.47,3.89,1],[.03,3.85,2],[4.28,3.75,1],[.05,3.65,1],[4.2,3.68,2],[4.02,3.61,3],[4.6,3.59,2],[4.11,3.53,2],[3.83,3.51,1],[.07,3.52,1],[.05,3.4,3],[.07,3.37,3],[3.64,3.43,1],[.08,3.21,1],[3.42,3.23,1],[3.3,3.18,2],[3.4,3.16,2],[2.92,3.09,1],[2.59,3.02,2],[2.98,3.01,1],[.26,3.03,1],[.21,2.99,2],[.31,2.94,3],[.41,2.98,3],[.23,2.9,1],[.59,2.94,1],[.68,2.95,2],[.49,2.87,2],[.61,2.86,2],[.85,2.91,1],[2.58,2.87,2],[3.07,2.87,1],[1.77,2.79,2],[1.83,2.7,1],[.75,2.63,2]];

// ---- axis labels as [text, style]: i italic, s subscript, si italic subscript ----
const labelI = [["i", "i"], [" (deg)"]];
const labelS = [["σ", "i"], ["θ", "si"], ["/"], ["σ", "i"], ["r", "si"]];
const labelM = [["M", "i"], ["•", "s"], [" ("], ["M", "i"], ["⊙", "s"], [")"]];
const labelY = [["Y"], [" ("], ["M", "i"], ["⊙", "s"], ["/"], ["L", "i"], ["⊙", "s"], [")"]];

const vars = [
  { dom: domI, ticks: ticksI, fmt: d3.format("d"), label: labelI },
  { dom: domS, ticks: ticksS, fmt: d3.format(".1f"), label: labelS },
  { dom: domM, ticks: ticksM, fmt: d3.format(".1f"), label: labelM },
  { dom: domY, ticks: ticksY, fmt: d3.format(".1f"), label: labelY }
];
const hists = [histI, histS, histM, histY];
const pairs = [
  { col: 0, row: 1, cells: cellsIS, lines: contoursIS, pts: pointsIS },
  { col: 0, row: 2, cells: cellsIM, lines: contoursIM, pts: pointsIM },
  { col: 1, row: 2, cells: cellsSM, lines: contoursSM, pts: pointsSM },
  { col: 0, row: 3, cells: cellsIY, lines: contoursIY, pts: pointsIY },
  { col: 1, row: 3, cells: cellsSY, lines: contoursSY, pts: pointsSY },
  { col: 2, row: 3, cells: cellsMY, lines: contoursMY, pts: pointsMY }
];

// ---- layout ----
const size = 600, step = 630, originX = 270.5, originY = 30.5, nBins = 20;
const tickLen = 14.6, spineW = 3.6, histW = 4.2, contourW = 6.2, tickFont = 41.7, labelFont = 58.4;
const svg = d3.select("#chart");
const shade = d3.scaleLinear().domain([0, 100]).range(["#ffffff", "#000000"]);
const weight = d3.scaleOrdinal().domain([1, 2, 3]).range([0.12, 0.3, 0.6]);

function panel(col, row) {
  return svg.append("g").attr("transform", `translate(${originX + col * step},${originY + row * step})`);
}

function frame(g) {
  g.append("rect").attr("width", size).attr("height", size)
    .attr("fill", "none").attr("stroke", "#000").attr("stroke-width", spineW);
}

function bottomAxis(g, v, scale, showLabels) {
  const ax = g.append("g").attr("transform", `translate(0,${size})`)
    .call(d3.axisBottom(scale).tickValues(v.ticks).tickSize(tickLen).tickFormat(showLabels ? v.fmt : ""));
  ax.select(".domain").remove();
  ax.selectAll("line").attr("stroke", "#000").attr("stroke-width", spineW);
  ax.selectAll("text")
    .attr("x", 0).attr("y", 0).attr("dy", "0.36em")
    .attr("text-anchor", "middle").attr("font-size", tickFont)
    .attr("transform", function () {
      return `translate(-3,${this.textContent.length > 2 ? 71 : 66}) rotate(-45)`;
    });
}

function leftAxis(g, v, scale, showLabels) {
  const ax = g.append("g")
    .call(d3.axisLeft(scale).tickValues(v.ticks).tickSize(tickLen).tickFormat(showLabels ? v.fmt : ""));
  ax.select(".domain").remove();
  ax.selectAll("line").attr("stroke", "#000").attr("stroke-width", spineW);
  ax.selectAll("text")
    .attr("x", 0).attr("y", 0).attr("dy", "0.36em")
    .attr("text-anchor", "middle").attr("font-size", tickFont)
    .attr("transform", "translate(-71,22) rotate(-45)");
}

// text with subscripts, mathtext style
function mathText(g, parts) {
  const t = g.append("text").attr("text-anchor", "middle").attr("font-size", labelFont)
    .style("white-space", "pre");
  let shift = 0;
  parts.forEach(([s, style]) => {
    const isSub = style === "s" || style === "si";
    const want = isSub ? 12 : 0;
    t.append("tspan")
      .attr("dy", want - shift)
      .attr("font-size", isSub ? labelFont * 0.7 : labelFont)
      .attr("font-style", style === "i" || style === "si" ? "italic" : "normal")
      .text(s);
    shift = want;
  });
}

// ---- diagonal: 1d histograms ----
hists.forEach((counts, i) => {
  const v = vars[i];
  const g = panel(i, i);
  const x = d3.scaleLinear().domain(v.dom).range([0, size]);
  const y = d3.scaleLinear().domain([0, 1100]).range([size, 0]);
  const edge = d3.scaleLinear().domain([0, nBins]).range(v.dom);
  const steps = counts.map((c, k) => [edge(k), c]).concat([[edge(nBins), counts[nBins - 1]]]);
  g.append("path").datum(steps)
    .attr("fill", "none").attr("stroke", "#000").attr("stroke-width", histW)
    .attr("d", d3.line().x(d => x(d[0])).y(d => y(d[1])).curve(d3.curveStepAfter));
  frame(g);
  bottomAxis(g, v, x, i === 3);
});

// ---- lower triangle: points, 2d histogram, contours ----
pairs.forEach((p, n) => {
  const vx = vars[p.col], vy = vars[p.row];
  const g = panel(p.col, p.row);
  const x = d3.scaleLinear().domain(vx.dom).range([0, size]);
  const y = d3.scaleLinear().domain(vy.dom).range([size, 0]);
  const xEdge = d3.scaleLinear().domain([0, nBins]).range(vx.dom);
  const yEdge = d3.scaleLinear().domain([0, nBins]).range([vy.dom[1], vy.dom[0]]);

  svg.append("clipPath").attr("id", "clip" + n)
    .append("rect").attr("width", size).attr("height", size);
  const inner = g.append("g").attr("clip-path", `url(#clip${n})`);

  inner.selectAll("circle").data(p.pts).enter().append("circle")
    .attr("cx", d => x(d[0])).attr("cy", d => y(d[1])).attr("r", 4.3)
    .attr("fill", "#000").attr("fill-opacity", d => weight(d[2]));

  const cells = p.cells.flatMap(([r, c0, vals]) => vals.map((v, k) => ({ r, c: c0 + k, v })));
  inner.selectAll("rect").data(cells).enter().append("rect")
    .attr("x", d => x(xEdge(d.c))).attr("y", d => y(yEdge(d.r)))
    .attr("width", d => x(xEdge(d.c + 1)) - x(xEdge(d.c)))
    .attr("height", d => y(yEdge(d.r + 1)) - y(yEdge(d.r)))
    .attr("fill", d => shade(d.v));

  const line = d3.line().x(d => x(d[0])).y(d => y(d[1]));
  inner.selectAll("path").data(p.lines).enter().append("path")
    .attr("fill", "none").attr("stroke", "#000").attr("stroke-width", contourW)
    .attr("stroke-linejoin", "miter").attr("d", line);

  frame(g);
  bottomAxis(g, vx, x, p.row === 3);
  leftAxis(g, vy, y, p.col === 0);
});

// ---- offset text and axis titles ----
svg.append("text").attr("x", 273).attr("y", 1277).attr("font-size", 40).text("1e10");
svg.append("text").attr("x", 2130).attr("y", 2670).attr("text-anchor", "end").attr("font-size", 40).text("1e10");

vars.forEach((v, i) => {
  mathText(svg.append("g").attr("transform", `translate(${originX + i * step + size / 2},2747)`), v.label);
  if (i > 0) {
    mathText(svg.append("g").attr("transform", `translate(77,${originY + i * step + size / 2}) rotate(-90)`), v.label);
  }
});
</script>
</body>
</html>
